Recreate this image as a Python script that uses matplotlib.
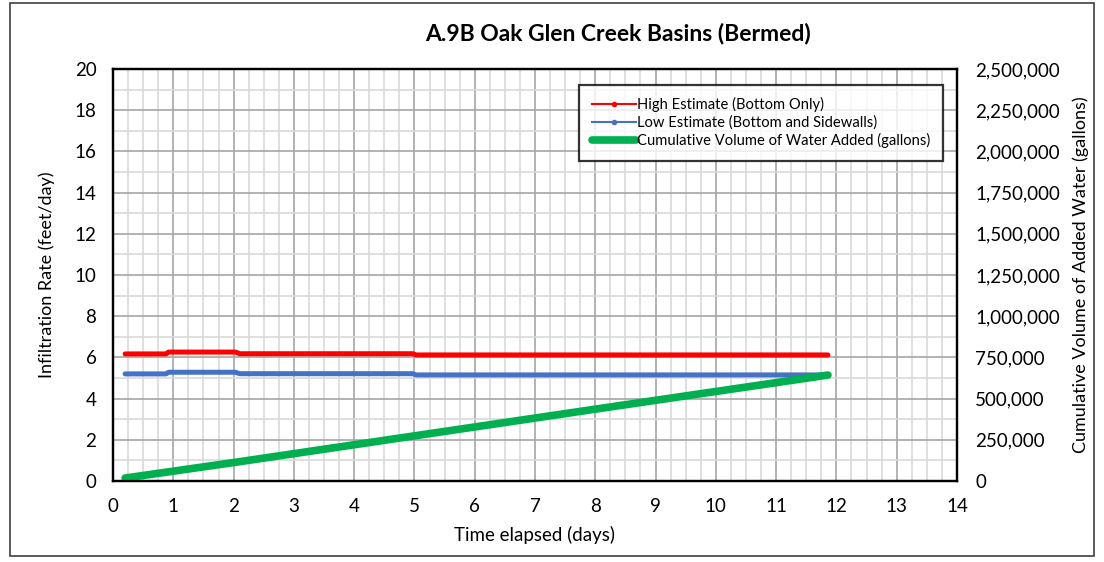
import numpy as np
import matplotlib.pyplot as plt
from matplotlib.patches import Rectangle
from matplotlib.ticker import MultipleLocator, FuncFormatter

plt.rcParams['font.family'] = ['Lato', 'DejaVu Sans']

# high estimate (bottom only), ft/day
high_days = [0.2, 0.88, 0.92, 2.03, 2.1, 4.97, 5.03, 11.86]
high_rate = [6.17, 6.17, 6.26, 6.26, 6.18, 6.18, 6.12, 6.12]

# low estimate (bottom and sidewalls), ft/day
low_days = [0.2, 0.88, 0.92, 2.03, 2.1, 4.97, 5.03, 11.86]
low_rate = [5.2, 5.2, 5.28, 5.28, 5.21, 5.21, 5.15, 5.15]

# cumulative volume added, gallons
vol_days = [0.2, 2, 5, 8, 11.86]
vol_gal = [18000, 112000, 274000, 436000, 643000]

fig = plt.figure(figsize=(11.04, 5.62), dpi=100)
ax = fig.add_axes([0.1024, 0.1441, 0.7644, 0.7331])
ax2 = ax.twinx()

ax.set_xlim(0, 14)
ax.set_ylim(0, 20)
ax2.set_ylim(0, 2500000)

ax.xaxis.set_major_locator(MultipleLocator(1))
ax.xaxis.set_minor_locator(MultipleLocator(0.25))
ax.yaxis.set_major_locator(MultipleLocator(2))
ax.yaxis.set_minor_locator(MultipleLocator(1))
ax2.yaxis.set_major_locator(MultipleLocator(250000))
ax2.yaxis.set_major_formatter(FuncFormatter(lambda v, p: f'{int(v):,}'))

ax.grid(which='major', color='#a6a6a6', lw=1.2)
ax.grid(which='minor', color='#d9d9d9', lw=1.2)
ax.set_axisbelow(True)

ax.tick_params(axis='y', which='both', length=0, labelsize=13.5, pad=12)
ax.tick_params(axis='x', which='both', length=0, labelsize=13.5, pad=12)
ax2.tick_params(which='both', length=0, labelsize=13.5, pad=13)

l1, = ax.plot(high_days, high_rate, color='#ff0000', lw=3.6,
              label='High Estimate (Bottom Only)', solid_capstyle='round')
l2, = ax.plot(low_days, low_rate, color='#4472c4', lw=3.6,
              label='Low Estimate (Bottom and Sidewalls)', solid_capstyle='round')
l3, = ax2.plot(vol_days, vol_gal, color='#00b050', lw=5.5,
               label='Cumulative Volume of Water Added (gallons)', solid_capstyle='round')

for a in (ax, ax2):
    for s in a.spines.values():
        s.set_color('black')
        s.set_linewidth(1.6)

ax.set_xlabel('Time elapsed (days)', fontsize=13.5, labelpad=8)
ax.set_ylabel('Infiltration Rate (feet/day)', fontsize=13, labelpad=14)
ax2.set_ylabel('Cumulative Volume of Added Water (gallons)', fontsize=13, labelpad=9)

# legend handles with small dots for the rate lines
h1, = ax.plot([], [], color='#ff0000', lw=1.5, marker='o', markersize=3)
h2, = ax.plot([], [], color='#4472c4', lw=1.5, marker='o', markersize=3)
h3, = ax.plot([], [], color='#00b050', lw=5.5, solid_capstyle='round')
leg = ax2.legend([h1, h2, h3], [l1.get_label(), l2.get_label(), l3.get_label()],
                 loc='upper right', bbox_to_anchor=(0.9834, 0.962), borderaxespad=0,
                 fontsize=10.6, frameon=True, fancybox=False, edgecolor='black',
                 handlelength=3.0, handletextpad=0.1, borderpad=0.85, labelspacing=0.22)
leg.get_frame().set_linewidth(1.6)

fig.text(0.56, 0.94, 'A.9B Oak Glen Creek Basins (Bermed)', ha='center', va='center',
         fontsize=16.5, fontweight='bold')

fig.patches.append(Rectangle((0.009, 0.01), 0.982, 0.984, transform=fig.transFigure,
                             fill=False, edgecolor='#404040', lw=1.2))

fig.savefig('out.png', dpi=100)
